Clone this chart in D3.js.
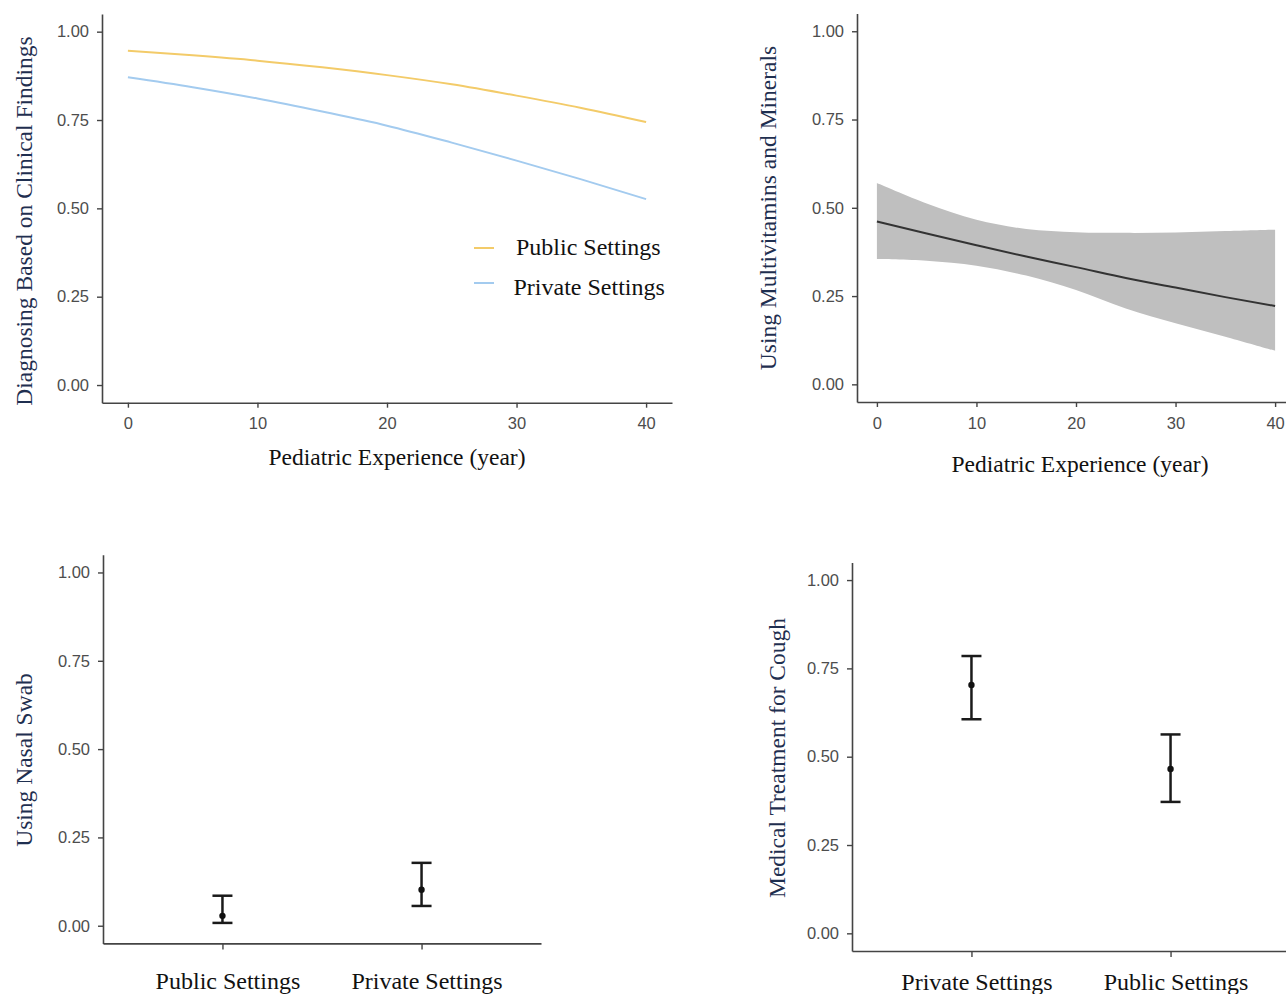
<!DOCTYPE html>
<html>
<head>
<meta charset="utf-8">
<script src="https://cdn.jsdelivr.net/npm/d3@7"></script>
<style>
  body { margin: 0; background: #fff; }
  svg { display: block; }
  .tick text { font-family: "Liberation Sans", Arial, sans-serif; font-size: 16.5px; fill: #4d4d4d; }
  .tick line, .domain { stroke: #444; }
  .domain { stroke-width: 1.6px; }
  .tick line { stroke-width: 1.4px; }
  .title { font-family: "Liberation Serif", "Times New Roman", serif; font-size: 23.5px; fill: #111; }
  .ytitle { fill: #1f2f50; }
</style>
</head>
<body>
<div id="viz"></div>
<script>
// données
const years = [0, 5, 10, 15, 20, 25, 30, 35, 40]
const publicDiag = [0.946, 0.933, 0.918, 0.899, 0.877, 0.851, 0.819, 0.784, 0.744]
const privateDiag = [0.871, 0.843, 0.811, 0.774, 0.734, 0.686, 0.635, 0.582, 0.526]

const multiFit = [0.461, 0.427, 0.394, 0.362, 0.332, 0.301, 0.274, 0.247, 0.222]
const multiUpper = [0.570, 0.512, 0.466, 0.440, 0.431, 0.429, 0.430, 0.434, 0.438]
const multiLower = [0.355, 0.350, 0.336, 0.308, 0.267, 0.215, 0.173, 0.135, 0.095]

const swabCats = ["Public Settings", "Private Settings"]
const swabMean = [0.028, 0.102]
const swabLow = [0.008, 0.056]
const swabHigh = [0.085, 0.178]

const coughCats = ["Private Settings", "Public Settings"]
const coughMean = [0.703, 0.465]
const coughLow = [0.606, 0.372]
const coughHigh = [0.785, 0.563]

const yTicks = [0, 0.25, 0.5, 0.75, 1]
const xTicks = [0, 10, 20, 30, 40]

const legendLabels = ["Public Settings", "Private Settings"]
const colors = ["#f3cb69", "#a3cbef"]

const W = 1286, H = 994

const svg = d3.select('#viz')
    .append('svg')
    .attr("width", W)
    .attr("height", H)

const fmt = d3.format(".2f")

let drawYAxis = (x0, y) => {
    svg.append('g')
        .attr("transform", "translate(" + x0 + ",0)")
        .call(d3.axisLeft(y).tickValues(yTicks).tickFormat(fmt).tickSize(5).tickPadding(8).tickSizeOuter(0))
}

let drawXAxis = (y0, x) => {
    svg.append('g')
        .attr("transform", "translate(0," + y0 + ")")
        .call(d3.axisBottom(x).tickValues(xTicks).tickSize(5).tickPadding(10).tickSizeOuter(0))
}

let yTitle = (x, y, txt) => {
    svg.append("text")
        .attr("class", "title ytitle")
        .attr("text-anchor", "middle")
        .attr("transform", "translate(" + x + "," + y + ") rotate(-90)")
        .text(txt)
}

let xTitle = (x, y, txt) => {
    svg.append("text")
        .attr("class", "title")
        .attr("text-anchor", "middle")
        .attr("x", x)
        .attr("y", y)
        .text(txt)
}

// ---- Panneau 1 : diagnostic ----
const x1 = d3.scaleLinear().domain([-2, 42]).range([102, 672])
const y1 = d3.scaleLinear().domain([-0.05, 1.05]).range([402.7, 14])

const line1 = d3.line()
    .x((d, i) => x1(years[i]))
    .y(d => y1(d))
    .curve(d3.curveMonotoneX)

;[publicDiag, privateDiag].forEach((serie, k) => {
    svg.append("path")
        .attr("d", line1(serie))
        .attr("fill", "none")
        .attr("stroke", colors[k])
        .attr("stroke-width", 2)
})

drawYAxis(102, y1)
drawXAxis(402.7, x1)
yTitle(32, 221, "Diagnosing Based on Clinical Findings")
xTitle(397, 465, "Pediatric Experience (year)")

// légende
const legendY = [248, 283]
const legendTextY = [255, 295]
const legendTextX = [516, 513.5]
legendLabels.forEach((lab, k) => {
    svg.append("line")
        .attr("x1", 474).attr("x2", 494)
        .attr("y1", legendY[k]).attr("y2", legendY[k])
        .attr("stroke", colors[k])
        .attr("stroke-width", 2)
    svg.append("text")
        .attr("class", "title")
        .style("font-size", "24px")
        .attr("x", legendTextX[k])
        .attr("y", legendTextY[k])
        .text(lab)
})

// ---- Panneau 2 : multivitamines ----
const x2 = d3.scaleLinear().domain([-2, 42]).range([857, 1295])
const y2 = d3.scaleLinear().domain([-0.05, 1.05]).range([402, 13.6])

const area2 = d3.area()
    .x((d, i) => x2(years[i]))
    .y0((d, i) => y2(multiLower[i]))
    .y1(d => y2(d))
    .curve(d3.curveCatmullRom)

svg.append("path")
    .attr("d", area2(multiUpper))
    .attr("fill", "#bfbfbf")

const line2 = d3.line()
    .x((d, i) => x2(years[i]))
    .y(d => y2(d))
    .curve(d3.curveMonotoneX)

svg.append("path")
    .attr("d", line2(multiFit))
    .attr("fill", "none")
    .attr("stroke", "#333")
    .attr("stroke-width", 2)

drawYAxis(857, y2)
drawXAxis(402, x2)
yTitle(776, 208, "Using Multivitamins and Minerals")
xTitle(1080, 472, "Pediatric Experience (year)")

// ---- Panneaux 3 et 4 : barres d'erreur ----
let errorPanel = (cats, mean, low, high, xRange, yRange, labelPad, titleX, titleY, title) => {
    const x = d3.scalePoint().domain(cats).range(xRange).padding(0.6)
    const y = d3.scaleLinear().domain([-0.05, 1.05]).range(yRange)

    const g = svg.append("g")
    cats.forEach((c, i) => {
        g.append("line")
            .attr("x1", x(c)).attr("x2", x(c))
            .attr("y1", y(low[i])).attr("y2", y(high[i]))
            .attr("stroke", "#1a1a1a").attr("stroke-width", 2.5)
        ;[low[i], high[i]].forEach(v => {
            g.append("line")
                .attr("x1", x(c) - 10).attr("x2", x(c) + 10)
                .attr("y1", y(v)).attr("y2", y(v))
                .attr("stroke", "#1a1a1a").attr("stroke-width", 2.5)
        })
        g.append("circle")
            .attr("cx", x(c)).attr("cy", y(mean[i]))
            .attr("r", 3.2)
            .attr("fill", "#111")
    })

    drawYAxis(xRange[0], y)

    const ax = svg.append('g')
        .attr("transform", "translate(0," + yRange[0] + ")")
        .call(d3.axisBottom(x).tickSize(6).tickPadding(labelPad).tickSizeOuter(0))
    ax.selectAll(".tick text")
        .attr("dx", 5)
        .style("font-family", '"Liberation Serif", "Times New Roman", serif')
        .style("font-size", "24px")
        .style("fill", "#111")

    yTitle(titleX, titleY, title)
}

errorPanel(swabCats, swabMean, swabLow, swabHigh, [103, 541], [943.4, 554.8], 23, 31.5, 760, "Using Nasal Swab")
errorPanel(coughCats, coughMean, coughLow, coughHigh, [852, 1290], [951, 562.4], 15.5, 785, 758, "Medical Treatment for Cough")
</script>
</body>
</html>
